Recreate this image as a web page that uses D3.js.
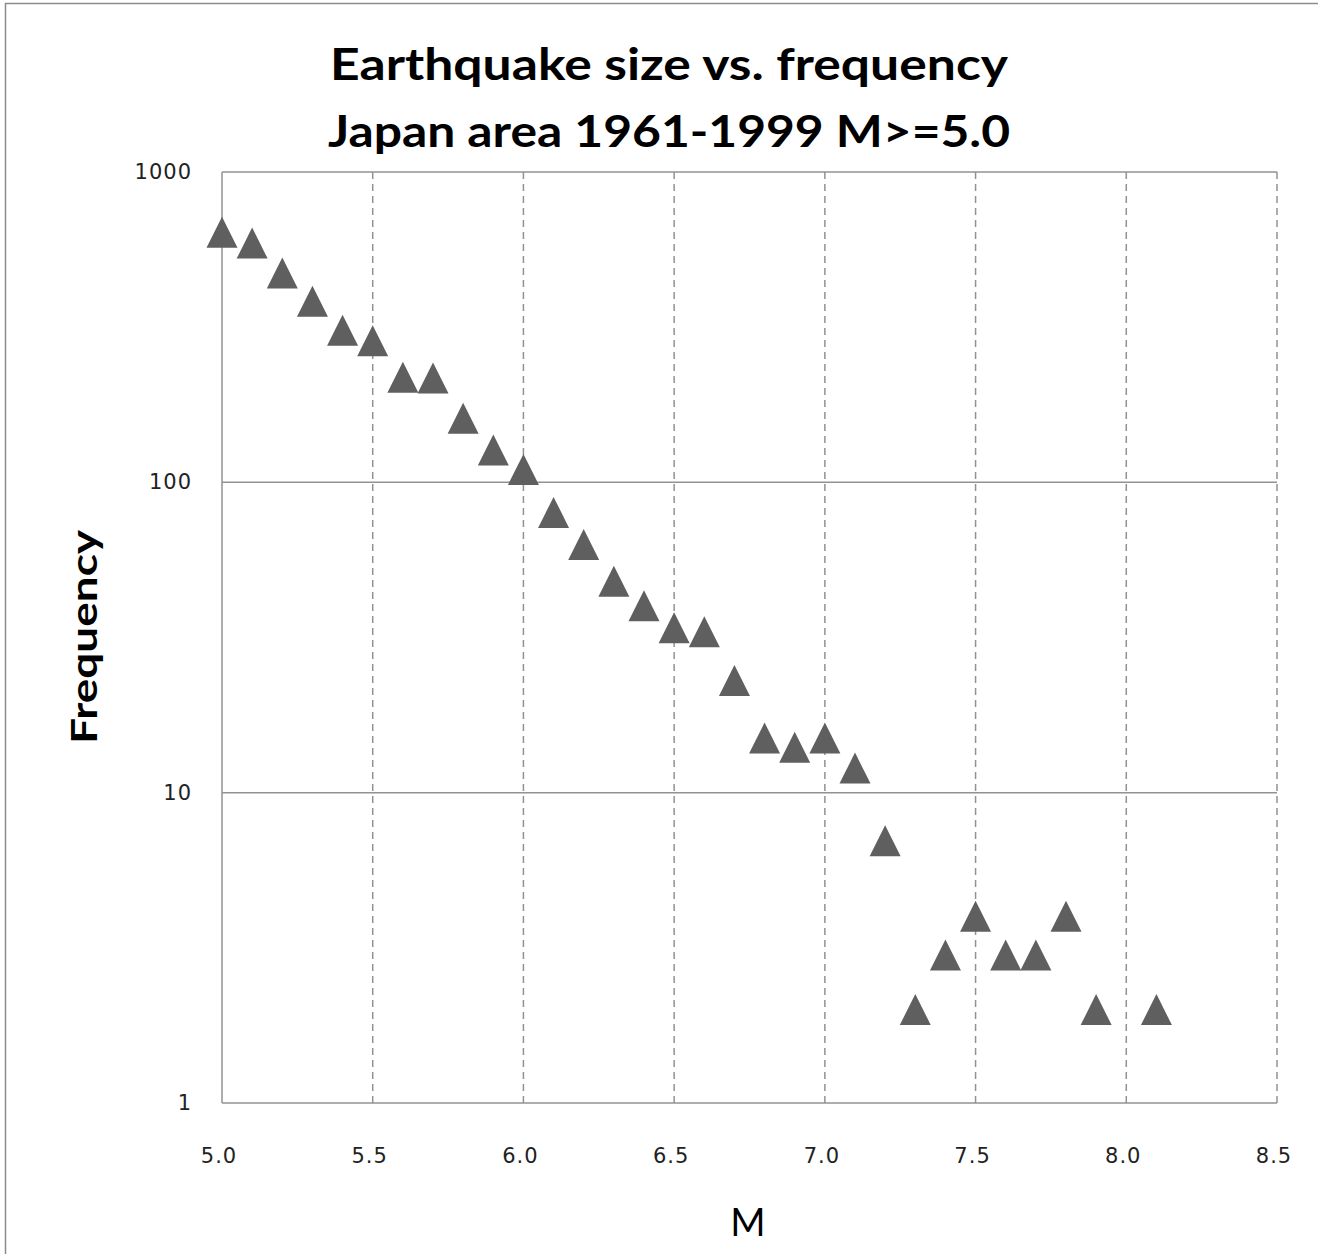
<!DOCTYPE html>
<html>
<head>
<meta charset="utf-8">
<script src="https://cdn.jsdelivr.net/npm/d3@7"></script>
<style>
  body { margin: 0; background: #fff; }
  svg { display: block; }
  .grid line { stroke: #929292; stroke-width: 1.5; }
  .tick-label { font-family: "DejaVu Sans", Verdana, sans-serif; font-size: 21px; letter-spacing: 1px; fill: #222; }
</style>
</head>
<body>
<svg id="chart" width="1318" height="1254"></svg>
<script>
/* globals d3 */

// magnitude bins and counts
var magnitudes = [5.0, 5.1, 5.2, 5.3, 5.4, 5.5, 5.6, 5.7, 5.8, 5.9,
                  6.0, 6.1, 6.2, 6.3, 6.4, 6.5, 6.6, 6.7, 6.8, 6.9,
                  7.0, 7.1, 7.2, 7.3, 7.4, 7.5, 7.6, 7.7, 7.8, 7.9, 8.1];
var counts = [639, 590, 473, 383, 309, 286, 218, 217, 161, 127,
              110, 80, 63, 48, 40, 34, 33, 23, 15, 14,
              15, 12, 7, 2, 3, 4, 3, 3, 4, 2, 2];

var xTicks = [5.0, 5.5, 6.0, 6.5, 7.0, 7.5, 8.0, 8.5];
var yTicks = [1, 10, 100, 1000];
var titleLines = ["Earthquake size vs. frequency", "Japan area 1961-1999  M>=5.0"];

var svg = d3.select("#chart");

// outer chart border
svg.append("rect")
    .attr("x", 5.5).attr("y", 3.5)
    .attr("width", 1330).attr("height", 1270)
    .attr("fill", "none")
    .attr("stroke", "#8c8c8c")
    .attr("stroke-width", 1.5);

var plot = {left: 222, right: 1277, top: 172, bottom: 1103};

var x = d3.scaleLinear().domain([5.0, 8.5]).range([plot.left, plot.right]);
var y = d3.scaleLog().domain([1, 1000]).range([plot.bottom, plot.top]);

// vertical dashed gridlines
svg.append("g")
    .attr("class", "grid")
    .selectAll("line")
    .data(xTicks.slice(1))
    .join("line")
    .attr("x1", function(d) { return x(d); })
    .attr("x2", function(d) { return x(d); })
    .attr("y1", plot.top)
    .attr("y2", plot.bottom)
    .attr("stroke-dasharray", "7,5");

// horizontal solid gridlines
svg.append("g")
    .attr("class", "grid")
    .selectAll("line")
    .data(yTicks)
    .join("line")
    .attr("x1", plot.left)
    .attr("x2", plot.right)
    .attr("y1", function(d) { return y(d); })
    .attr("y2", function(d) { return y(d); });

// left axis line
svg.append("line")
    .attr("x1", plot.left).attr("x2", plot.left)
    .attr("y1", plot.top).attr("y2", plot.bottom)
    .attr("stroke", "#929292")
    .attr("stroke-width", 1.5);

// y tick labels
svg.append("g")
    .selectAll("text")
    .data(yTicks)
    .join("text")
    .attr("class", "tick-label")
    .attr("x", 192)
    .attr("y", function(d) { return y(d) + 7; })
    .attr("text-anchor", "end")
    .text(function(d) { return d; });

// x tick labels
svg.append("g")
    .selectAll("text")
    .data(xTicks)
    .join("text")
    .attr("class", "tick-label")
    .attr("x", function(d) { return x(d) - 3; })
    .attr("y", 1163)
    .attr("text-anchor", "middle")
    .text(function(d) { return d.toFixed(1); });

// triangle markers, box centred on the data point
var w = 31, h = 31;
var tri = "M0," + (-h/2) + "L" + (w/2) + "," + (h/2) + "L" + (-w/2) + "," + (h/2) + "Z";
svg.append("g")
    .selectAll("path")
    .data(magnitudes.map(function(m, i) { return [m, counts[i]]; }))
    .join("path")
    .attr("d", tri)
    .attr("fill", "#5f5f5f")
    .attr("transform", function(d) { return "translate(" + x(d[0]) + "," + y(d[1]) + ")"; });

// title
svg.append("g")
    .selectAll("text")
    .data(titleLines)
    .join("text")
    .attr("x", 669)
    .attr("y", function(d, i) { return 80 + i * 67; })
    .attr("text-anchor", "middle")
    .attr("font-family", "Lato, 'Open Sans', sans-serif")
    .attr("font-weight", "bold")
    .attr("font-size", 44)
    .attr("textLength", function(d, i) { return i === 0 ? 678 : 682; })
    .attr("lengthAdjust", "spacingAndGlyphs")
    .text(function(d) { return d; });

// axis titles
svg.append("text")
    .attr("x", 748)
    .attr("y", 1236)
    .attr("text-anchor", "middle")
    .attr("font-family", "Lato, 'Open Sans', sans-serif")
    .attr("font-size", 38)
    .text("M");

svg.append("text")
    .attr("transform", "translate(97,637) rotate(-90)")
    .attr("text-anchor", "middle")
    .attr("font-family", "Lato, 'Open Sans', sans-serif")
    .attr("font-weight", "bold")
    .attr("font-size", 36)
    .attr("textLength", 214)
    .attr("lengthAdjust", "spacingAndGlyphs")
    .text("Frequency");
</script>
</body>
</html>
